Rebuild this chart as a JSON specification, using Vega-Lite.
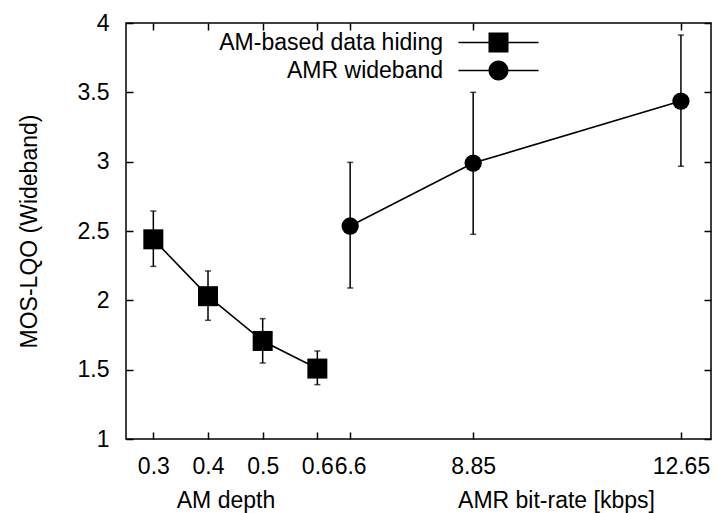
{
  "$schema": "https://vega.github.io/schema/vega-lite/v6.json",
  "width": 585,
  "height": 416,
  "autosize": {"type": "none"},
  "padding": {"left": 126, "top": 23, "right": 6, "bottom": 74},
  "background": "white",
  "config": {
    "view": {"stroke": "black", "strokeWidth": 1.5},
    "font": "Liberation Sans",
    "axis": {
      "labelFont": "Liberation Sans", "labelFontSize": 23, "labelColor": "black",
      "titleFont": "Liberation Sans", "titleFontSize": 23, "titleFontWeight": "normal", "titleColor": "black",
      "tickColor": "black", "tickWidth": 1.5, "tickSize": -7, "domain": false, "grid": false,
      "labelOverlap": false, "labelBound": false, "labelFlush": false
    },
    "legend": {
      "orient": "none", "legendX": 361, "legendY": 8, "title": null,
      "labelFont": "Liberation Sans", "labelFontSize": 23, "labelColor": "black",
      "labelAlign": "right", "labelOffset": -67, "labelLimit": 500,
      "symbolSize": 400, "symbolFillColor": "black", "symbolStrokeColor": "black",
      "symbolStrokeWidth": 0, "symbolOpacity": 1, "rowPadding": 4, "padding": 0, "direction": "vertical"
    }
  },
  "data": {
    "values": [
      {"series": "AM-based data hiding", "x": 3, "y": 2.44, "lo": 2.245, "hi": 2.644},
      {"series": "AM-based data hiding", "x": 4, "y": 2.03, "lo": 1.856, "hi": 2.212},
      {"series": "AM-based data hiding", "x": 5, "y": 1.707, "lo": 1.548, "hi": 1.868},
      {"series": "AM-based data hiding", "x": 6, "y": 1.508, "lo": 1.392, "hi": 1.635},
      {"series": "AMR wideband", "x": 6.6, "y": 2.536, "lo": 2.089, "hi": 2.995},
      {"series": "AMR wideband", "x": 8.85, "y": 2.99, "lo": 2.476, "hi": 3.5},
      {"series": "AMR wideband", "x": 12.65, "y": 3.437, "lo": 2.967, "hi": 3.913}
    ]
  },
  "layer": [
    {
      "encoding": {
        "x": {
          "field": "x", "type": "quantitative",
          "scale": {"domain": [2.5, 13.2], "nice": false, "zero": false},
          "axis": {
            "orient": "bottom", "values": [3, 4, 5, 6, 6.6, 8.85, 12.65],
            "labelExpr": "datum.value < 6.5 ? format(datum.value / 10, '.1f') : format(datum.value, '~g')",
            "labelPadding": 23,
            "title": "AM depth", "titleX": 99.5, "titleY": 68.7, "titleAlign": "center", "titleBaseline": "alphabetic"
          }
        }
      },
      "layer": [
        {
          "mark": {"type": "errorbar", "color": "black", "thickness": 1.5, "ticks": {"size": 6, "thickness": 1.5, "color": "black"}},
          "encoding": {
            "y": {
              "field": "lo", "type": "quantitative",
              "scale": {"domain": [1, 4], "nice": false, "zero": false},
              "title": "MOS-LQO (Wideband)",
              "axis": {
                "orient": "left", "values": [1, 1.5, 2, 2.5, 3, 3.5, 4], "format": "~g",
                "labelPadding": 24,
                "titleX": -90, "titleY": 208, "titleAlign": "center", "titleBaseline": "alphabetic", "titleAngle": -90
              }
            },
            "y2": {"field": "hi"}
          }
        },
        {
          "mark": {"type": "line", "color": "black", "strokeWidth": 1.6},
          "encoding": {
            "y": {"field": "y", "type": "quantitative", "title": "MOS-LQO (Wideband)"},
            "detail": {"field": "series", "type": "nominal"}
          }
        },
        {
          "mark": {"type": "point", "filled": true, "opacity": 1, "color": "black"},
          "encoding": {
            "y": {"field": "y", "type": "quantitative", "title": "MOS-LQO (Wideband)"},
            "shape": {"field": "series", "type": "nominal", "scale": {"domain": ["AM-based data hiding", "AMR wideband"], "range": ["square", "circle"]}, "legend": null},
            "size": {"field": "series", "type": "nominal", "scale": {"domain": ["AM-based data hiding", "AMR wideband"], "range": [400, 300]}, "legend": null}
          }
        }
      ]
    },
    {
      "mark": {"type": "point", "opacity": 0, "color": "black", "filled": true},
      "encoding": {
        "x": {
          "field": "x", "type": "quantitative",
          "scale": {"domain": [2.5, 13.2], "nice": false, "zero": false},
          "axis": {"orient": "top", "values": [3, 4, 5, 6, 6.6, 8.85, 12.65], "labels": false, "title": null}
        },
        "y": {
          "field": "y", "type": "quantitative",
          "scale": {"domain": [1, 4], "nice": false, "zero": false},
          "axis": {"orient": "right", "values": [1, 1.5, 2, 2.5, 3, 3.5, 4], "labels": false, "title": null}
        },
        "shape": {
          "field": "series", "type": "nominal",
          "scale": {
            "domain": ["AM-based data hiding", "AMR wideband"],
            "range": [
              "M-4,-0.075H4V0.075H-4Z M-1,-1H1V1H-1Z",
              "M-4,-0.075H4V0.075H-4Z M1,0A1,1,0,1,1,-1,0A1,1,0,1,1,1,0Z"
            ]
          },
          "legend": {"title": null}
        }
      }
    },
    {
      "mark": {"type": "point", "opacity": 0},
      "encoding": {
        "x": {
          "field": "x", "type": "quantitative",
          "scale": {"domain": [2.5, 13.2], "nice": false, "zero": false},
          "axis": {
            "orient": "bottom", "labels": false, "ticks": false, "domain": false,
            "title": "AMR bit-rate [kbps]", "titleX": 430, "titleY": 68.7, "titleAlign": "center", "titleBaseline": "alphabetic"
          }
        },
        "y": {
          "field": "y", "type": "quantitative",
          "scale": {"domain": [1, 4], "nice": false, "zero": false},
          "axis": null
        }
      }
    }
  ],
  "resolve": {
    "scale": {"x": "independent", "y": "independent", "shape": "independent"},
    "axis": {"x": "independent", "y": "independent"}
  }
}
